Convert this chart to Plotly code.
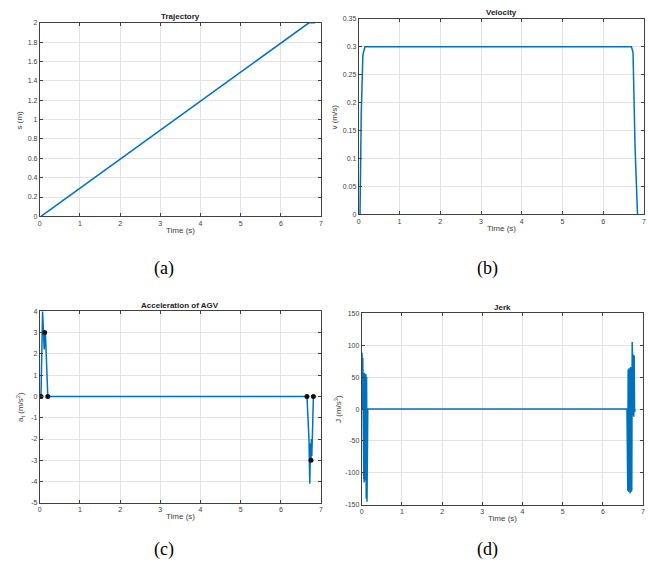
import plotly.graph_objects as go

# ---------------- data ----------------
traj_t = [0.03, 0.5, 1, 2, 3, 4, 5, 6, 6.7, 6.85]
traj_s = [0.0, 0.14, 0.29, 0.59, 0.89, 1.19, 1.49, 1.79, 2.0, 2.0]

vel_t = [0.03, 0.06, 0.1, 0.15, 1, 2, 3, 4, 5, 6, 6.69, 6.73, 6.78, 6.84]
vel_v = [0.0, 0.18, 0.285, 0.3, 0.3, 0.3, 0.3005, 0.301, 0.3005, 0.3, 0.3, 0.29, 0.12, 0.0]

acc_t = [0.0, 0.03, 0.07, 0.1, 0.11, 0.12, 0.13, 0.14, 0.15, 0.2, 6.65, 6.7, 6.72, 6.73, 6.74, 6.75, 6.76, 6.77, 6.79, 6.81, 6.85]
acc_a = [0.0, 0.0, 4.0, 3.0, 2.2, 3.0, 2.3, 3.0, 2.5, 0.0, 0.0, -2.0, -4.1, -3.0, -2.2, -3.0, -2.0, -2.8, -1.5, 0.0, 0.0]
acc_mark_t = [0.03, 0.12, 0.2, 6.65, 6.75, 6.81]
acc_mark_a = [0.0, 3.0, 0.0, 0.0, -3.0, 0.0]

jerk_t = [0.0, 0.005, 0.01, 0.015, 0.02, 0.025, 0.03, 0.035, 0.04, 0.045, 0.05, 0.055,
          0.06, 0.065, 0.07, 0.075, 0.08, 0.085, 0.09, 0.1, 0.11, 0.12, 0.13, 0.15,
          1, 2, 3, 4, 5, 6, 6.6, 6.62, 6.63, 6.64, 6.65, 6.66, 6.67, 6.68, 6.69, 6.7,
          6.71, 6.72, 6.73, 6.74, 6.75, 6.76, 6.77, 6.78, 6.79, 6.8]
jerk_j = [0.0, 88, 30, 85, 35, 80, 28, 75, 40, 55, -110, 55,
          -115, 57, -105, 55, -112, 50, -112, 55, -140, 50, -145, 0,
          0, 0, 0, 0, 0, 0, 0, -128, 62, -130, 64, -126, 60, -132, 66, -130,
          62, -128, 105, 80, -10, 85, -12, 84, -5, 0]

tick_vals = {
    "x": [0, 1, 2, 3, 4, 5, 6, 7],
    "traj_y": [0, 0.2, 0.4, 0.6, 0.8, 1, 1.2, 1.4, 1.6, 1.8, 2],
    "vel_y": [0, 0.05, 0.1, 0.15, 0.2, 0.25, 0.3, 0.35],
    "acc_y": [-5, -4, -3, -2, -1, 0, 1, 2, 3, 4],
    "jerk_y": [-150, -100, -50, 0, 50, 100, 150],
}

titles = ["Trajectory", "Velocity", "Acceleration of AGV", "Jerk"]
ylabels = ["s (m)", "v (m/s)", "a<sub>t</sub> (m/s<sup>2</sup>)", "J (m/s<sup>3</sup>)"]
xlabel = "Time (s)"
panel_labels = ["(a)", "(b)", "(c)", "(d)"]

# ---------------- figure ----------------
W, H = 651, 580
LINE = "#0072BD"
fig = go.Figure()

fig.add_trace(go.Scatter(x=traj_t, y=traj_s, mode="lines", line=dict(color=LINE, width=1.5),
                         xaxis="x", yaxis="y", showlegend=False))
fig.add_trace(go.Scatter(x=vel_t, y=vel_v, mode="lines", line=dict(color=LINE, width=1.5),
                         xaxis="x2", yaxis="y2", showlegend=False))
fig.add_trace(go.Scatter(x=acc_t, y=acc_a, mode="lines", line=dict(color=LINE, width=1.5),
                         xaxis="x3", yaxis="y3", showlegend=False))
fig.add_trace(go.Scatter(x=acc_mark_t, y=acc_mark_a, mode="markers",
                         marker=dict(color="#111111", size=5),
                         xaxis="x3", yaxis="y3", showlegend=False))
fig.add_trace(go.Scatter(x=jerk_t, y=jerk_j, mode="lines", line=dict(color=LINE, width=1.5),
                         xaxis="x4", yaxis="y4", showlegend=False))

# pixel boxes: (left, top, right, bottom)
boxes = [(38, 19, 321, 215), (359, 15, 646, 213), (38, 311, 321, 505), (362, 313, 645, 507)]
ylab_off = [20, 24, 20, 24]
yranges = [[0, 2], [0, 0.35], [-5, 4], [-150, 150]]
yticks = [tick_vals["traj_y"], tick_vals["vel_y"], tick_vals["acc_y"], tick_vals["jerk_y"]]
yticktext = [
    ["0", "0.2", "0.4", "0.6", "0.8", "1", "1.2", "1.4", "1.6", "1.8", "2"],
    ["0", "0.05", "0.1", "0.15", "0.2", "0.25", "0.3", "0.35"],
    ["-5", "-4", "-3", "-2", "-1", "0", "1", "2", "3", "4"],
    ["-150", "-100", "-50", "0", "50", "100", "150"],
]

axis_common = dict(showgrid=True, gridcolor="#e3e3e3", gridwidth=1, zeroline=False,
                   showline=True, linecolor="#404040", linewidth=1, mirror="ticks",
                   ticks="inside", ticklen=3, tickcolor="#404040",
                   tickfont=dict(family="Liberation Sans", size=7, color="#404040"))

layout = dict(width=W, height=H, margin=dict(l=0, r=0, t=0, b=0),
              paper_bgcolor="white", plot_bgcolor="white", showlegend=False)
annotations = []
for i, (l, t, r, b) in enumerate(boxes):
    sx = "" if i == 0 else str(i + 1)
    layout["xaxis" + sx] = dict(axis_common, domain=[l / W, r / W], range=[0, 7],
                                tickvals=tick_vals["x"], anchor="y" + sx)
    layout["yaxis" + sx] = dict(axis_common, domain=[1 - b / H, 1 - t / H], range=yranges[i],
                                tickvals=yticks[i], ticktext=yticktext[i], anchor="x" + sx)
    cx = (l + r) / 2
    annotations.append(dict(text="<b>" + titles[i] + "</b>", x=cx / W, y=1 - (t - 6) / H,
                            xref="paper", yref="paper", showarrow=False,
                            xanchor="center", yanchor="middle",
                            font=dict(family="Liberation Sans", size=8, color="#222222")))
    annotations.append(dict(text=xlabel, x=cx / W, y=1 - (b + 14) / H,
                            xref="paper", yref="paper", showarrow=False,
                            xanchor="center", yanchor="middle",
                            font=dict(family="Liberation Sans", size=8, color="#404040")))
    annotations.append(dict(text=ylabels[i], x=(l - ylab_off[i]) / W, y=1 - ((t + b) / 2) / H,
                            xref="paper", yref="paper", showarrow=False, textangle=-90,
                            xanchor="center", yanchor="middle",
                            font=dict(family="Liberation Sans", size=8, color="#404040")))

label_pos = [(163, 268), (488, 268), (163, 552), (488, 552)]
for txt, (px, py) in zip(panel_labels, label_pos):
    annotations.append(dict(text=txt, x=px / W, y=1 - py / H, xref="paper", yref="paper",
                            showarrow=False, xanchor="center", yanchor="middle",
                            font=dict(family="Liberation Serif", size=18, color="black")))

layout["annotations"] = annotations
fig.update_layout(**layout)
fig.write_html("out.html", config={"displayModeBar": False},
               post_script="document.body.style.margin='0';document.body.style.overflow='hidden';")
